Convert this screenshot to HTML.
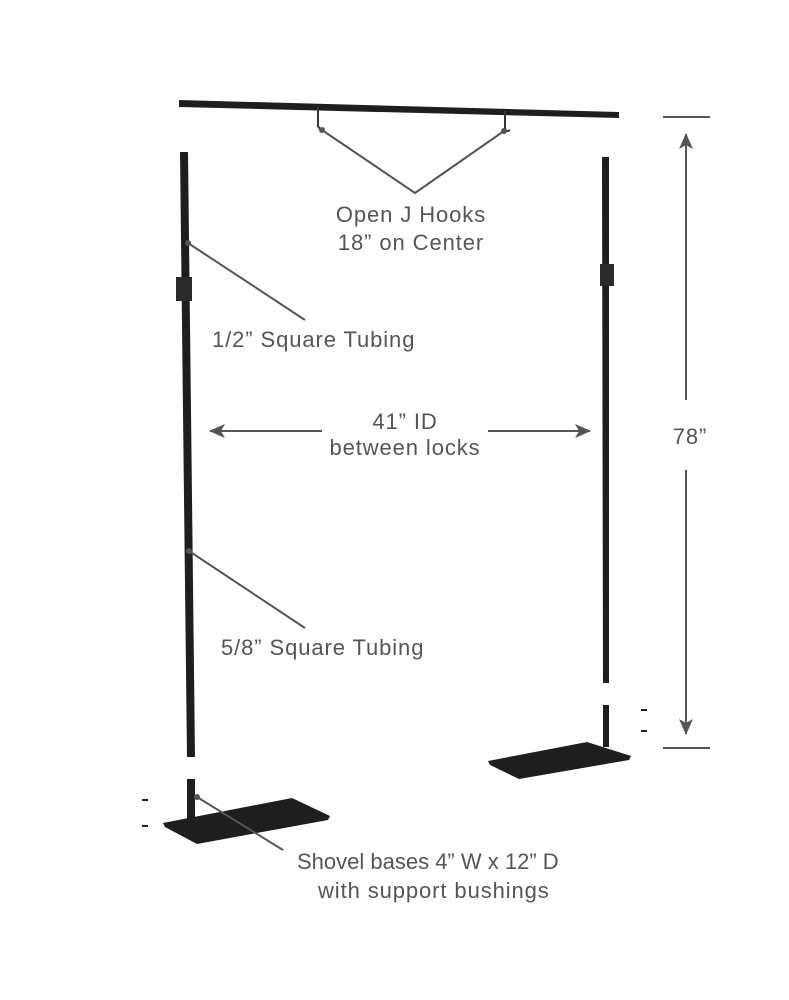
<!DOCTYPE html>
<html><head><style>
body{margin:0;background:#fff;}
svg{display:block}
text{font-family:"Liberation Sans",sans-serif;font-size:22px;letter-spacing:0.9px;fill:#555;}
</style></head><body>
<svg width="789" height="1000" viewBox="0 0 789 1000">
<defs>
<marker id="ah" markerWidth="16" markerHeight="14" refX="15" refY="7" orient="auto" markerUnits="userSpaceOnUse">
<path d="M0,0 L16,7 L0,14 L4,7 Z" fill="#555"/></marker>
</defs>
<polygon points="179,100 619,112 619,118 179,107" fill="#1e1e1e"/>
<path d="M318,106 L318,126 Q320,131 324,128" stroke="#333" stroke-width="2" fill="none"/>
<path d="M505,111 L505,128 Q506,133 510,130" stroke="#333" stroke-width="2" fill="none"/>
<circle cx="322" cy="130" r="3" fill="#555"/><circle cx="504" cy="131" r="3" fill="#555"/>
<polyline points="322,130 415,193 504,131" stroke="#555" stroke-width="2" fill="none"/>
<polygon points="180,152 188,152 195,757 187,757" fill="#1e1e1e"/>
<rect x="176" y="277" width="16" height="24" fill="#2a2a2a"/>
<polygon points="602,157 609,157 609,683 603,683" fill="#1e1e1e"/>
<rect x="600" y="264" width="14" height="22" fill="#2a2a2a"/>
<rect x="603" y="705" width="6" height="42" fill="#1e1e1e"/>
<polygon points="488,761 587,742 631,756 629,760 519,779 490,765" fill="#1e1e1e"/>
<rect x="187" y="779" width="8" height="56" fill="#1e1e1e"/>
<polygon points="163,823 292,798 330,816 328,820 197,844 165,827" fill="#1e1e1e"/>
<g stroke="#222" stroke-width="2">
<line x1="142" y1="800" x2="148" y2="800"/><line x1="142" y1="826" x2="148" y2="826"/>
<line x1="641" y1="710" x2="647" y2="710"/><line x1="641" y1="731" x2="647" y2="731"/>
</g>
<g stroke="#555" stroke-width="2" fill="none">
<line x1="188" y1="243" x2="305" y2="320"/>
<line x1="189" y1="551" x2="305" y2="628"/>
<line x1="197" y1="797" x2="283" y2="850"/>
</g>
<g fill="#555"><circle cx="188" cy="243" r="3"/><circle cx="189" cy="551" r="3"/><circle cx="197" cy="797" r="3"/></g>
<g stroke="#555" stroke-width="2">
<line x1="322" y1="431" x2="210" y2="431" marker-end="url(#ah)"/>
<line x1="488" y1="431" x2="590" y2="431" marker-end="url(#ah)"/>
<line x1="663" y1="117" x2="710" y2="117"/>
<line x1="663" y1="748" x2="710" y2="748"/>
<line x1="686" y1="400" x2="686" y2="134" marker-end="url(#ah)"/>
<line x1="686" y1="470" x2="686" y2="734" marker-end="url(#ah)"/>
</g>
<text x="411" y="222" text-anchor="middle">Open J Hooks</text>
<text x="411" y="250" text-anchor="middle">18” on Center</text>
<text x="212" y="347">1/2” Square Tubing</text>
<text x="405" y="429" text-anchor="middle">41” ID</text>
<text x="405" y="455" text-anchor="middle">between locks</text>
<text x="690" y="444" text-anchor="middle">78”</text>
<text x="221" y="655">5/8” Square Tubing</text>
<text x="297" y="869" style="letter-spacing:0">Shovel bases 4” W x 12” D</text>
<text x="318" y="898">with support bushings</text>
</svg>
</body></html>
